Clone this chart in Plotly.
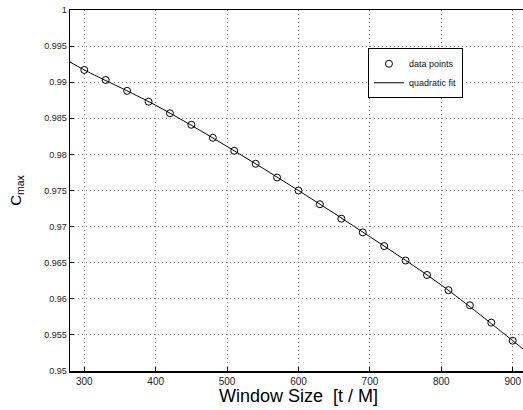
import plotly.graph_objects as go

# Data points (window size vs C_max)
window_size = [300, 330, 360, 390, 420, 450, 480, 510, 540, 570, 600,
               630, 660, 690, 720, 750, 780, 810, 840, 870, 900]
c_max = [0.9917, 0.9903, 0.9888, 0.9873, 0.9857, 0.9841, 0.9823, 0.9805,
         0.9787, 0.9768, 0.9750, 0.9731, 0.9711, 0.9692, 0.9673, 0.9653,
         0.9633, 0.9612, 0.9591, 0.9567, 0.9542]

# Quadratic fit curve
fit_x = [280, 300, 400, 500, 600, 700, 800, 900, 920]
fit_y = [0.9928, 0.9917, 0.9868, 0.9811, 0.9750, 0.9686, 0.9619, 0.9542, 0.9526]

x_ticks = [300, 400, 500, 600, 700, 800, 900]
y_ticks = [0.95, 0.955, 0.96, 0.965, 0.97, 0.975, 0.98, 0.985, 0.99, 0.995, 1]
y_tick_text = ["0.95", "0.955", "0.96", "0.965", "0.97", "0.975", "0.98",
               "0.985", "0.99", "0.995", "1"]

FONT = "Liberation Sans, Arial, Helvetica, sans-serif"
GRID = "#8a8a8a"

fig = go.Figure()
fig.add_trace(go.Scatter(
    x=window_size, y=c_max, mode="markers", name="data points",
    marker=dict(symbol="circle-open", size=7, color="black",
                line=dict(width=1, color="black")),
))
fig.add_trace(go.Scatter(
    x=fit_x, y=fit_y, mode="lines", name="quadratic fit",
    line=dict(color="black", width=1, shape="spline"),
))

# The original figure is cropped on the right: the axes box continues
# a few pixels beyond the visible 523 px window.
fig.update_layout(
    width=527, height=410,
    margin=dict(l=70, r=0, t=10, b=39, autoexpand=False),
    paper_bgcolor="white", plot_bgcolor="white",
    font=dict(family=FONT, color="black", size=10),
    showlegend=True,
    legend=dict(
        x=0.652, y=0.894, xanchor="left", yanchor="top",
        bgcolor="white", bordercolor="black", borderwidth=1,
        font=dict(size=9, family=FONT, color="#111111"),
        tracegroupgap=0,
    ),
)

fig.update_xaxes(
    range=[280, 920], tickvals=x_ticks,
    showline=True, linecolor="black", linewidth=1.5, mirror=True,
    ticks="inside", ticklen=4, tickcolor="black",
    showgrid=True, gridcolor=GRID, griddash="1px,3px", gridwidth=1,
    zeroline=False,
    tickfont=dict(size=10, family=FONT, color="#222222"),
    title=dict(text="Window Size\u00a0\u00a0[t / M]", font=dict(size=18, family=FONT),
               standoff=2),
)
fig.update_yaxes(
    range=[0.95, 1], tickvals=y_ticks, ticktext=y_tick_text,
    showline=True, linecolor="black", linewidth=1.5, mirror=False,
    ticks="inside", ticklen=4, tickcolor="black",
    showgrid=True, gridcolor=GRID, griddash="1px,3px", gridwidth=1,
    zeroline=False,
    tickfont=dict(size=9, family=FONT, color="#222222"),
    title=dict(text="C<sub>max</sub>", font=dict(size=15, family=FONT),
               standoff=19),
)

fig.write_html(
    "out.html", config={"displayModeBar": False, "staticPlot": True},
    post_script="document.body.style.margin='0';"
                "document.body.style.overflow='hidden';"
                "document.documentElement.style.overflow='hidden';",
)
